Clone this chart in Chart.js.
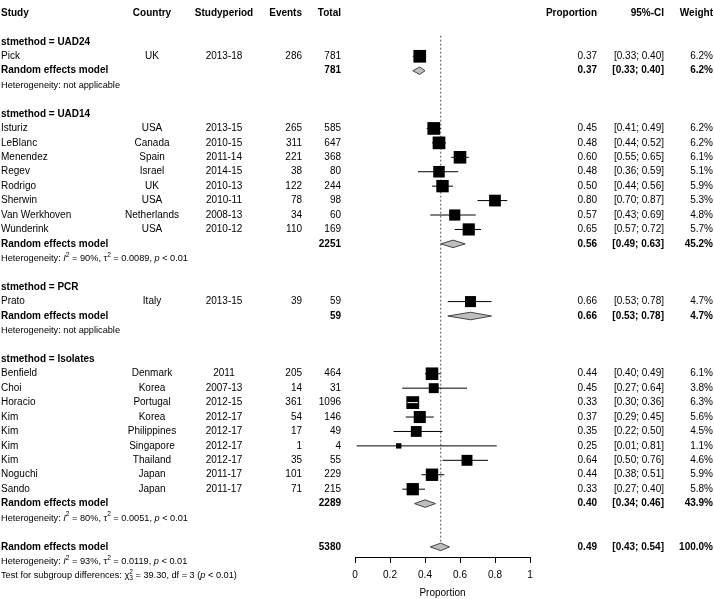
<!DOCTYPE html>
<html>
<head>
<meta charset="utf-8">
<script src="https://cdn.jsdelivr.net/npm/chart.js@4.4.1/dist/chart.umd.min.js"></script>
<style>
html, body { margin: 0; padding: 0; background: #fff; }
canvas { display: block; }
</style>
</head>
<body>
<canvas id="forest" width="714" height="599"></canvas>
<script>
"use strict";

var FONT = '"Liberation Sans", Arial, sans-serif';

// subgroups
var groups      = ["UAD24", "UAD14", "PCR", "Isolates"];
var subProp     = [0.37, 0.56, 0.66, 0.40];
var subLow      = [0.33, 0.49, 0.53, 0.34];
var subHigh     = [0.40, 0.63, 0.78, 0.46];
var subWeight   = [6.2, 45.2, 4.7, 43.9];
var subTotal    = [781, 2251, 59, 2289];
var subI2       = [null, "90%", null, "80%"];
var subTau2     = [null, "0.0089", null, "0.0051"];

// studies
var studyGroup = [0, 1, 1, 1, 1, 1, 1, 1, 1, 2, 3, 3, 3, 3, 3, 3, 3, 3, 3];
var studies    = ["Pick", "Isturiz", "LeBlanc", "Menendez", "Regev", "Rodrigo", "Sherwin", "Van Werkhoven", "Wunderink",
                  "Prato", "Benfield", "Choi", "Horacio", "Kim", "Kim", "Kim", "Kim", "Noguchi", "Sando"];
var countries  = ["UK", "USA", "Canada", "Spain", "Israel", "UK", "USA", "Netherlands", "USA",
                  "Italy", "Denmark", "Korea", "Portugal", "Korea", "Philippines", "Singapore", "Thailand", "Japan", "Japan"];
var periods    = ["2013-18", "2013-15", "2010-15", "2011-14", "2014-15", "2010-13", "2010-11", "2008-13", "2010-12",
                  "2013-15", "2011", "2007-13", "2012-15", "2012-17", "2012-17", "2012-17", "2012-17", "2011-17", "2011-17"];
var events     = [286, 265, 311, 221, 38, 122, 78, 34, 110, 39, 205, 14, 361, 54, 17, 1, 35, 101, 71];
var totals     = [781, 585, 647, 368, 80, 244, 98, 60, 169, 59, 464, 31, 1096, 146, 49, 4, 55, 229, 215];
var props      = [0.37, 0.45, 0.48, 0.60, 0.48, 0.50, 0.80, 0.57, 0.65, 0.66, 0.44, 0.45, 0.33, 0.37, 0.35, 0.25, 0.64, 0.44, 0.33];
var ciLow      = [0.33, 0.41, 0.44, 0.55, 0.36, 0.44, 0.70, 0.43, 0.57, 0.53, 0.40, 0.27, 0.30, 0.29, 0.22, 0.01, 0.50, 0.38, 0.27];
var ciHigh     = [0.40, 0.49, 0.52, 0.65, 0.59, 0.56, 0.87, 0.69, 0.72, 0.78, 0.49, 0.64, 0.36, 0.45, 0.50, 0.81, 0.76, 0.51, 0.40];
var weights    = [6.2, 6.2, 6.2, 6.1, 5.1, 5.9, 5.3, 4.8, 5.7, 4.7, 6.1, 3.8, 6.3, 5.6, 4.5, 1.1, 4.6, 5.9, 5.8];

// overall
var allProp = 0.49, allLow = 0.43, allHigh = 0.54, allTotal = 5380;
var allI2 = "93%", allTau2 = "0.0119";
var testChi2 = "39.30", testDf = "3";

// axis ticks
var xTicks = [0, 0.2, 0.4, 0.6, 0.8, 1];

// ---- row layout (one row per text line) ----
var studyRow = [], groupRow = [], subRow = [], hetRow = [];
var r = 2;
groups.forEach(function(g, gi) {
    groupRow[gi] = r++;
    studies.forEach(function(s, i) {
        if (studyGroup[i] === gi) studyRow[i] = r++;
    });
    subRow[gi] = r++;
    hetRow[gi] = r++;
    r++;
});
var allRow = r, allHetRow = r + 1, testRow = r + 2;

function squareSide(w) { return 5.1 * Math.sqrt(w); }
function fmt2(v) { return v.toFixed(2); }
function ci(lo, hi) { return "[" + fmt2(lo) + "; " + fmt2(hi) + "]"; }

// ---- datasets ----
var datasets = [];

datasets.push({
    data: [{ x: allProp, y: 1.57 }, { x: allProp, y: allRow - 0.3 }],
    showLine: true, borderColor: "#555", borderWidth: 1, borderDash: [2, 2],
    pointRadius: 0, order: 10
});

datasets.push({
    data: props.map(function(p, i) { return { x: p, y: studyRow[i] }; }),
    pointStyle: "rect",
    pointRadius: function(ctx) { return squareSide(weights[ctx.dataIndex]) / Math.SQRT2; },
    backgroundColor: "#000", borderColor: "#000", borderWidth: 0,
    order: 3
});

// CI lines go on top of the squares: white when the whole interval sits inside the box
props.forEach(function(p, i) {
    datasets.push({
        data: [{ x: ciLow[i], y: studyRow[i] }, { x: ciHigh[i], y: studyRow[i] }],
        showLine: true, borderWidth: 1, pointRadius: 0, order: 2,
        borderColor: function(ctx) {
            var xs = ctx.chart.scales.x;
            if (!xs) return "#000";
            var len = xs.getPixelForValue(ciHigh[i]) - xs.getPixelForValue(ciLow[i]);
            return len < squareSide(weights[i]) - 2 ? "#fff" : "#000";
        }
    });
});

var dh = 0.26;
function diamond(p, lo, hi, row) {
    return {
        data: [{ x: lo, y: row }, { x: p, y: row - dh }, { x: hi, y: row }, { x: p, y: row + dh }, { x: lo, y: row }],
        showLine: true, fill: "shape", tension: 0,
        backgroundColor: "#bebebe", borderColor: "#444", borderWidth: 1,
        pointRadius: 0, order: 1
    };
}
subProp.forEach(function(p, gi) { datasets.push(diamond(p, subLow[gi], subHigh[gi], subRow[gi])); });
datasets.push(diamond(allProp, allLow, allHigh, allRow));

// ---- text columns ----
function drawRich(ctx, parts, x, y, size) {
    parts.forEach(function(p) {
        var fs = p.s ? size * 0.72 : size;
        ctx.font = (p.i ? "italic " : "") + fs + "px " + FONT;
        var dy = p.s === "sup" ? -size * 0.38 : (p.s === "sub" ? size * 0.3 : 0);
        ctx.fillText(p.t, x, y + dy);
        if (!p.stack) x += ctx.measureText(p.t).width;
    });
}

function hetParts(i2, tau2) {
    return [
        { t: "Heterogeneity: " }, { t: "I", i: true }, { t: "2", s: "sup" },
        { t: " = " + i2 + ", " }, { t: "\u03c4" }, { t: "2", s: "sup" },
        { t: " = " + tau2 + ", " }, { t: "p", i: true }, { t: " < 0.01" }
    ];
}

var textPlugin = {
    id: "forestText",
    afterDraw: function(chart) {
        var ctx = chart.ctx, ys = chart.scales.y;
        var bold = "bold 10px " + FONT, norm = "10px " + FONT, small = 9.2;
        function Y(row) { return ys.getPixelForValue(row); }
        function txt(s, x, row, align, font) {
            ctx.font = font;
            ctx.textAlign = align;
            ctx.fillText(s, x, Y(row));
        }
        ctx.save();
        ctx.fillStyle = "#000";
        ctx.textBaseline = "middle";

        // header
        txt("Study", 1, 0, "left", bold);
        txt("Country", 152, 0, "center", bold);
        txt("Studyperiod", 224, 0, "center", bold);
        txt("Events", 302, 0, "right", bold);
        txt("Total", 341, 0, "right", bold);
        txt("Proportion", 597, 0, "right", bold);
        txt("95%-CI", 664, 0, "right", bold);
        txt("Weight", 713, 0, "right", bold);

        studies.forEach(function(s, i) {
            var row = studyRow[i];
            txt(s, 1, row, "left", norm);
            txt(countries[i], 152, row, "center", norm);
            txt(periods[i], 224, row, "center", norm);
            txt(String(events[i]), 302, row, "right", norm);
            txt(String(totals[i]), 341, row, "right", norm);
            txt(fmt2(props[i]), 597, row, "right", norm);
            txt(ci(ciLow[i], ciHigh[i]), 664, row, "right", norm);
            txt(weights[i].toFixed(1) + "%", 713, row, "right", norm);
        });

        groups.forEach(function(g, gi) {
            txt("stmethod = " + g, 1, groupRow[gi], "left", bold);
            txt("Random effects model", 1, subRow[gi], "left", bold);
            txt(String(subTotal[gi]), 341, subRow[gi], "right", bold);
            txt(fmt2(subProp[gi]), 597, subRow[gi], "right", bold);
            txt(ci(subLow[gi], subHigh[gi]), 664, subRow[gi], "right", bold);
            txt(subWeight[gi].toFixed(1) + "%", 713, subRow[gi], "right", bold);
            ctx.textAlign = "left";
            if (subI2[gi] === null) {
                drawRich(ctx, [{ t: "Heterogeneity: not applicable" }], 1, Y(hetRow[gi]), small);
            } else {
                drawRich(ctx, hetParts(subI2[gi], subTau2[gi]), 1, Y(hetRow[gi]), small);
            }
        });

        txt("Random effects model", 1, allRow, "left", bold);
        txt(String(allTotal), 341, allRow, "right", bold);
        txt(fmt2(allProp), 597, allRow, "right", bold);
        txt(ci(allLow, allHigh), 664, allRow, "right", bold);
        txt("100.0%", 713, allRow, "right", bold);
        ctx.textAlign = "left";
        drawRich(ctx, hetParts(allI2, allTau2), 1, Y(allHetRow), small);
        drawRich(ctx, [
            { t: "Test for subgroup differences: " }, { t: "\u03c7" },
            { t: "2", s: "sup", stack: true }, { t: "3", s: "sub" },
            { t: " = " + testChi2 + ", df = " + testDf + " (" }, { t: "p", i: true }, { t: " < 0.01)" }
        ], 1, Y(testRow), small);

        ctx.restore();
    }
};

new Chart(document.getElementById("forest"), {
    type: "scatter",
    data: { datasets: datasets },
    plugins: [textPlugin],
    options: {
        responsive: false,
        animation: false,
        devicePixelRatio: 1,
        events: [],
        layout: { padding: { left: 355, right: 184, top: 0, bottom: 0 } },
        plugins: { legend: { display: false }, tooltip: { enabled: false } },
        scales: {
            x: {
                type: "linear", position: "bottom", min: 0, max: 1,
                afterBuildTicks: function(scale) {
                    scale.ticks = xTicks.map(function(v) { return { value: v }; });
                },
                afterFit: function(scale) { scale.height = 42; },
                ticks: {
                    color: "#000", font: { size: 10, family: FONT }, padding: 6, maxRotation: 0, autoSkip: false,
                    callback: function(v) { return String(+Number(v).toFixed(1)); }
                },
                grid: { drawOnChartArea: false, drawTicks: true, tickLength: 6, tickColor: "#000", color: "#000" },
                border: { display: true, color: "#000", width: 1 },
                title: { display: true, text: "Proportion", color: "#000", font: { size: 10, family: FONT }, padding: { top: 2, bottom: 0 } }
            },
            y: { type: "linear", display: false, reverse: true, min: -0.273, max: 37.70 }
        }
    }
});
</script>
</body>
</html>
